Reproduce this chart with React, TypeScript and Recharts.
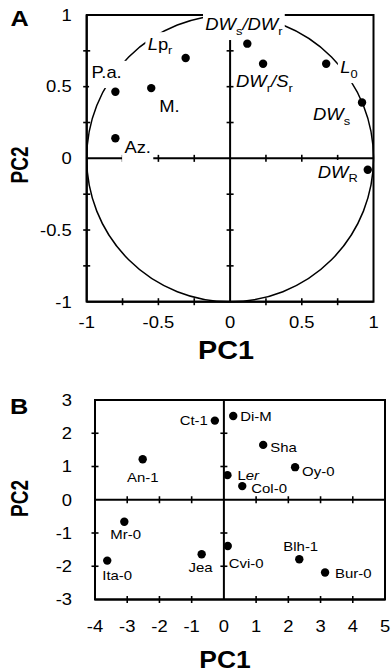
import { ScatterChart, Scatter, XAxis, YAxis } from 'recharts';

const FONT = '"Liberation Sans", Arial, Helvetica, sans-serif';
const SX = 1.15; // the original lettering is a bit wide

// A: loadings of the traits on PC1 / PC2
const loadingNames = ['P.a.', 'M.', 'Az.', 'Lpr', 'DWs/DWr', 'DWr/Sr', 'L0', 'DWs', 'DWR'];
const loadingPC1 = [-0.8, -0.55, -0.8, -0.31, 0.12, 0.23, 0.67, 0.92, 0.96];
const loadingPC2 = [0.465, 0.49, 0.14, 0.7, 0.8, 0.66, 0.66, 0.39, -0.08];
const loadingTicks = [-1, -0.5, 0, 0.5, 1];
const loadingMinor = [-0.75, -0.5, -0.25, 0.25, 0.5, 0.75];

// B: accession scores
const accessions = ['Ct-1', 'Di-M', 'Sha', 'Oy-0', 'An-1', 'Ler', 'Col-0', 'Mr-0', 'Ita-0', 'Jea', 'Cvi-0', 'Blh-1', 'Bur-0'];
const scorePC1 = [-0.28, 0.29, 1.22, 2.21, -2.52, 0.11, 0.57, -3.09, -3.62, -0.69, 0.12, 2.34, 3.14];
const scorePC2 = [2.38, 2.52, 1.65, 0.98, 1.22, 0.74, 0.41, -0.66, -1.83, -1.64, -1.39, -1.79, -2.19];
const scoreXTicks = [-4, -3, -2, -1, 0, 1, 2, 3, 4, 5];
const scoreYTicks = [-3, -2, -1, 0, 1, 2, 3];
const scoreXMinor = [-3, -2, -1, 1, 2, 3, 4];
const scoreYMinor = [-2, -1, 1, 2];

type Seg = { t: string; it?: boolean; sub?: boolean };

// labels with italics / subscripts
const rich: Record<string, Seg[]> = {
  Lpr: [{ t: 'L', it: true }, { t: 'p' }, { t: 'r', sub: true }],
  'DWs/DWr': [{ t: 'DW', it: true }, { t: 's', sub: true }, { t: '/', it: true }, { t: 'DW', it: true }, { t: 'r', sub: true }],
  'DWr/Sr': [{ t: 'DW', it: true }, { t: 'r', sub: true }, { t: '/', it: true }, { t: 'S', it: true }, { t: 'r', sub: true }],
  L0: [{ t: 'L', it: true }, { t: '0', sub: true }],
  DWs: [{ t: 'DW', it: true }, { t: 's', sub: true }],
  DWR: [{ t: 'DW', it: true }, { t: 'R', sub: true }],
  Ler: [{ t: 'L' }, { t: 'er', it: true }],
};

// label offset from its dot: [dx, dy of text middle, anchor]
type Place = [number, number, string?];
const placeA: Record<string, Place> = {
  'P.a.': [-24, -19],
  'M.': [8, 18],
  'Az.': [9, 9],
  Lpr: [-38, -14],
  'DWs/DWr': [-42, -19],
  'DWr/Sr': [-27, 18],
  L0: [14, 4],
  DWs: [-49, 12],
  DWR: [-50, 2],
};
const placeB: Record<string, Place> = {
  'Ct-1': [-7, 0, 'end'],
  'Di-M': [7, 0],
  Sha: [7, 2],
  'Oy-0': [7, 4],
  'An-1': [0, 18, 'middle'],
  Ler: [10, 0],
  'Col-0': [9, 2],
  'Mr-0': [-14, 13],
  'Ita-0': [-5, 15],
  Jea: [11, 13, 'end'],
  'Cvi-0': [1, 17],
  'Blh-1': [-16, -13],
  'Bur-0': [10, 1],
};

const CW: Record<string, number> = {
  D: 0.722, W: 0.944, L: 0.556, S: 0.667, R: 0.722, P: 0.667, M: 0.833, A: 0.667,
  p: 0.556, s: 0.5, r: 0.333, a: 0.556, z: 0.5, '/': 0.278, '.': 0.278,
};

function textWidth(segs: Seg[], size: number) {
  let w = 0;
  segs.forEach((s) => {
    const fs = s.sub ? size * 0.7 : size;
    for (const c of s.t) w += (CW[c] ?? 0.556) * fs;
  });
  return w;
}

function RichText({ segs, size }: { segs: Seg[]; size: number }) {
  let shifted = false;
  return (
    <>
      {segs.map((s, i) => {
        let dy = 0;
        if (s.sub && !shifted) dy = size * 0.28;
        if (!s.sub && shifted) dy = -size * 0.28;
        shifted = !!s.sub;
        return (
          <tspan key={i} dy={dy || undefined} fontSize={s.sub ? size * 0.7 : size} fontStyle={s.it ? 'italic' : 'normal'}>
            {s.t}
          </tspan>
        );
      })}
    </>
  );
}

function PointLabel({ cx, cy, name, size, place, bg }: any) {
  const [dx, dy, anchor = 'start'] = place[name] as Place;
  const segs = rich[name] ?? [{ t: name }];
  const w = textWidth(segs, size);
  return (
    <g transform={`translate(${cx + dx},${cy + dy + size * 0.36}) scale(${SX},1)`}>
      {bg && <rect x={-2} y={-size * 1.1} width={w + 4} height={size * 1.7} fill="#fff" />}
      <text x={0} y={0} textAnchor={anchor} fontSize={size} fill="#000">
        <RichText segs={segs} size={size} />
      </text>
    </g>
  );
}

const hMark = (p: any) => <line x1={p.cx - 3.5} x2={p.cx + 3.5} y1={p.cy} y2={p.cy} stroke="#000" strokeWidth={1.6} />;
const vMark = (p: any) => <line x1={p.cx} x2={p.cx} y1={p.cy - 3.5} y2={p.cy + 3.5} stroke="#000" strokeWidth={1.6} />;
const dot = (p: any) => <circle cx={p.cx} cy={p.cy} r={4.2} fill="#000" />;

function stretched(x: number, y: number, txt: string, size: number, anchor: string, bold = false) {
  return (
    <g transform={`translate(${x},${y}) scale(${SX},1)`}>
      <text x={0} y={0} textAnchor={anchor} fontSize={size} fontWeight={bold ? 'bold' : 'normal'} fill="#000">
        {txt}
      </text>
    </g>
  );
}

function vertTitle(x: number, y: number, txt: string) {
  return (
    <g transform={`translate(${x},${y}) rotate(-90) scale(1,1.25)`}>
      <text x={0} y={19 * 0.36} textAnchor="middle" fontSize={19} fontWeight="bold" fill="#000">
        {txt}
      </text>
    </g>
  );
}

type PanelProps = {
  height: number;
  margin: { top: number; right: number; left: number; bottom: number };
  yAxisW: number;
  xAxisH: number;
  xDomain: [number, number];
  yDomain: [number, number];
  xTicks: number[];
  yTicks: number[];
  xMinor: number[];
  yMinor: number[];
  names: string[];
  xs: number[];
  ys: number[];
  labelSize: number;
  place: Record<string, Place>;
  labelBg: boolean;
  unitCircle: boolean;
  xTickDy: number;
  yTickGap: number;
  titles: React.ReactNode;
};

function Panel(p: PanelProps) {
  const W = 392;
  const plotW = W - p.margin.right - p.margin.left - p.yAxisW;
  const plotH = p.height - p.margin.top - p.margin.bottom - p.xAxisH;
  const plotTop = p.margin.top;
  const plotLeft = p.margin.left + p.yAxisW;
  const points = p.names.map((name, i) => ({ name, x: p.xs[i], y: p.ys[i] }));
  const yMarks = p.yMinor.flatMap((v) => [
    { x: p.xDomain[0], y: v },
    { x: 0, y: v },
  ]);
  const xMarks = p.xMinor.flatMap((v) => [
    { x: v, y: p.yDomain[0] },
    { x: v, y: 0 },
  ]);
  const axisLine = { stroke: '#000', strokeWidth: 2 };

  const xTick = (t: any) => stretched(t.x, t.y + p.xTickDy, String(t.payload.value), 16, 'middle');
  const yTick = (t: any) => stretched(t.x - p.yTickGap, t.y + 5.8, String(t.payload.value), 16, 'end');

  return (
    <ScatterChart width={W} height={p.height} margin={p.margin}>
      <XAxis
        type="number"
        dataKey="x"
        domain={p.xDomain}
        ticks={p.xTicks}
        interval={0}
        height={p.xAxisH}
        axisLine={axisLine}
        tickLine={false}
        tickSize={0}
        tickMargin={0}
        tick={xTick}
        label={() => <g>{p.titles}</g>}
      />
      <YAxis
        type="number"
        dataKey="y"
        domain={p.yDomain}
        ticks={p.yTicks}
        interval={0}
        width={p.yAxisW}
        axisLine={axisLine}
        tickLine={false}
        tickSize={0}
        tickMargin={0}
        tick={yTick}
      />

      {/* frame and zero lines, anchored on the origin */}
      <Scatter
        data={[{ x: 0, y: 0 }]}
        isAnimationActive={false}
        shape={(s: any) => (
          <g stroke="#000" strokeWidth={2} fill="none">
            <rect x={plotLeft} y={plotTop} width={plotW} height={plotH} />
            <line x1={s.cx} x2={s.cx} y1={plotTop} y2={plotTop + plotH} />
            <line x1={plotLeft} x2={plotLeft + plotW} y1={s.cy} y2={s.cy} />
          </g>
        )}
      />
      {p.unitCircle && (
        <Scatter
          data={[{ x: 0, y: 0 }]}
          isAnimationActive={false}
          shape={(s: any) => <circle cx={s.cx} cy={s.cy} r={plotW / 2} fill="none" stroke="#000" strokeWidth={1.5} />}
        />
      )}
      <Scatter data={yMarks} isAnimationActive={false} shape={hMark} />
      <Scatter data={xMarks} isAnimationActive={false} shape={vMark} />
      <Scatter
        data={points}
        isAnimationActive={false}
        shape={(s: any) => (
          <PointLabel cx={s.cx} cy={s.cy} name={s.payload.name} size={p.labelSize} place={p.place} bg={p.labelBg} />
        )}
      />
      <Scatter data={points} isAnimationActive={false} shape={dot} />
    </ScatterChart>
  );
}

export default function App() {
  return (
    <div style={{ position: 'absolute', left: 0, top: 0, width: 392, height: 672, background: '#fff', fontFamily: FONT }}>
      <div style={{ position: 'absolute', left: 0, top: 0 }}>
        <Panel
          height={370}
          margin={{ top: 15, right: 18.5, left: 0, bottom: 0 }}
          yAxisW={86.7}
          xAxisH={68.3}
          xDomain={[-1, 1]}
          yDomain={[-1, 1]}
          xTicks={loadingTicks}
          yTicks={loadingTicks}
          xMinor={loadingMinor}
          yMinor={loadingMinor}
          names={loadingNames}
          xs={loadingPC1}
          ys={loadingPC2}
          labelSize={16}
          place={placeA}
          labelBg
          unitCircle
          xTickDy={26}
          yTickGap={15}
          titles={
            <>
              {stretched(19.5, 18 + 22 * 0.36, 'A', 22, 'middle', true)}
              {stretched(226, 350 + 25 * 0.36, 'PC1', 25, 'middle', true)}
              {vertTitle(19.5, 165, 'PC2')}
            </>
          }
        />
      </div>
      <div style={{ position: 'absolute', left: 0, top: 380 }}>
        <Panel
          height={292}
          margin={{ top: 20, right: 7, left: 0, bottom: 0 }}
          yAxisW={95}
          xAxisH={72.5}
          xDomain={[-4, 5]}
          yDomain={[-3, 3]}
          xTicks={scoreXTicks}
          yTicks={scoreYTicks}
          xMinor={scoreXMinor}
          yMinor={scoreYMinor}
          names={accessions}
          xs={scorePC1}
          ys={scorePC2}
          labelSize={13}
          place={placeB}
          labelBg={false}
          unitCircle={false}
          xTickDy={32}
          yTickGap={23}
          titles={
            <>
              {stretched(19, 26.5 + 22 * 0.36, 'B', 22, 'middle', true)}
              {stretched(225, 280 + 23 * 0.36, 'PC1', 23, 'middle', true)}
              {vertTitle(19.5, 118.5, 'PC2')}
            </>
          }
        />
      </div>
    </div>
  );
}
